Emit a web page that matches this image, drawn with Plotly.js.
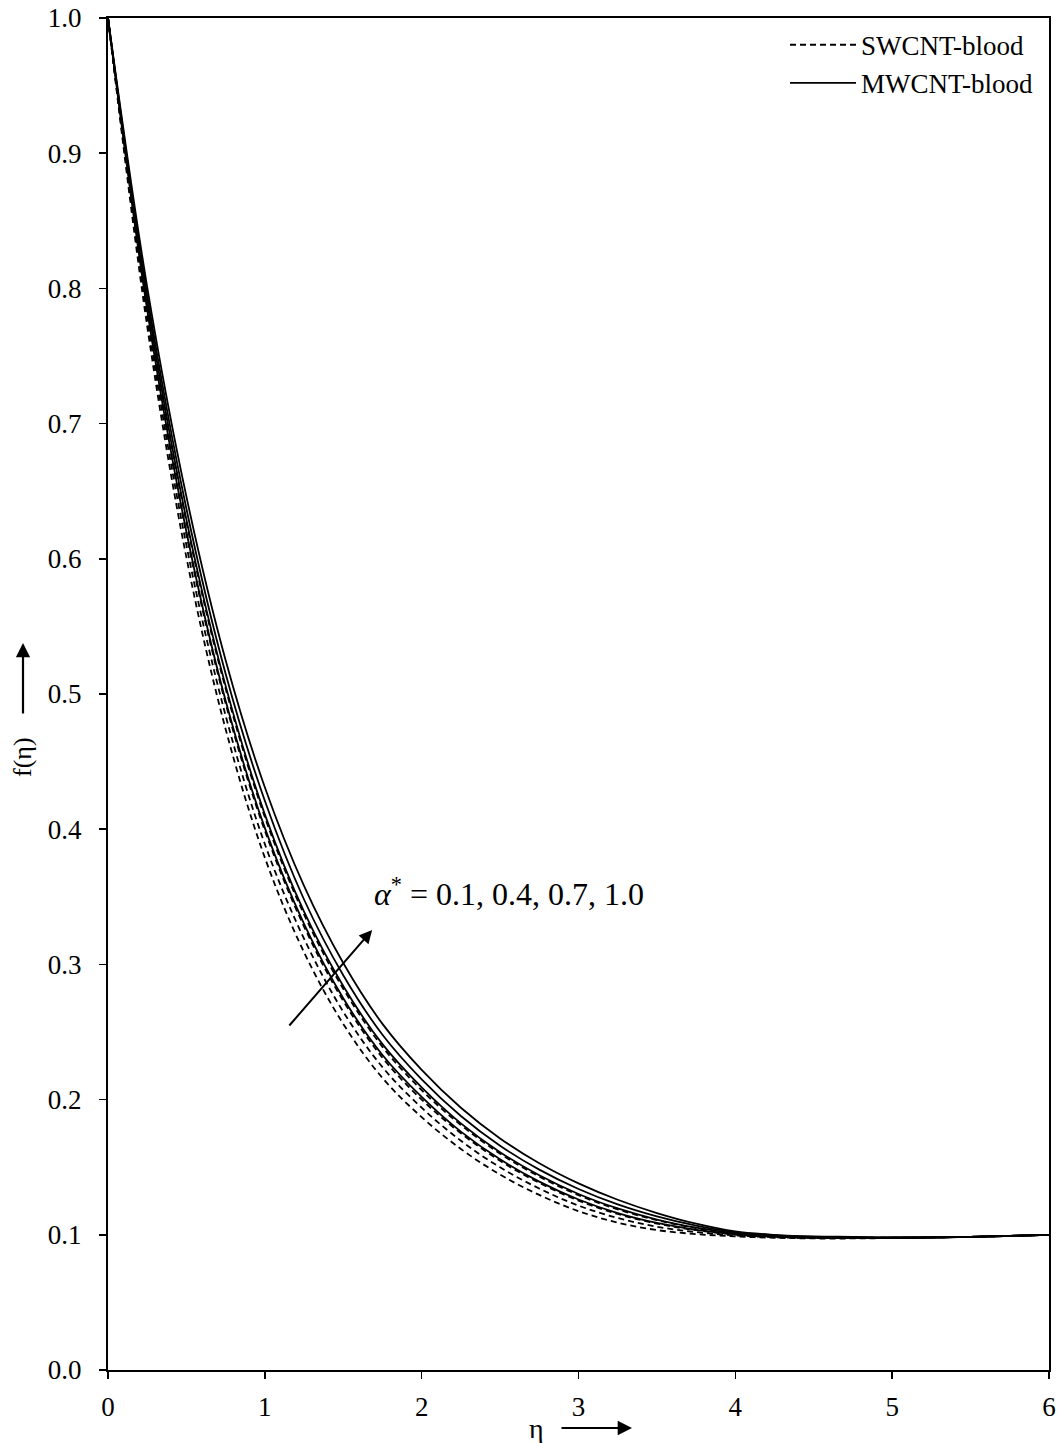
<!DOCTYPE html>
<html>
<head>
<meta charset="utf-8">
<script src="https://cdn.plot.ly/plotly-3.0.1.min.js"></script>
<style>
  html, body { margin: 0; padding: 0; background: #fff; }
  #chart { width: 1062px; height: 1443px; }
</style>
</head>
<body>
<div id="chart"></div>
<script>
// Similarity variable eta
const eta = [0, 0.25, 0.5, 0.75, 1, 1.25, 1.5, 1.75, 2, 2.25, 2.5, 2.75, 3, 3.25, 3.5, 3.75, 4, 4.25, 4.5, 4.75, 5, 5.5, 6];

// f(eta) for SWCNT-blood, alpha* = 0.1, 0.4, 0.7, 1.0
const swcnt_a01 = [1, 0.772, 0.601, 0.474, 0.379, 0.309, 0.256, 0.216, 0.187, 0.1635, 0.1445, 0.1295, 0.1175, 0.1090, 0.1035, 0.1005, 0.0988, 0.0978, 0.0973, 0.0973, 0.0976, 0.0985, 0.100];
const swcnt_a04 = [1, 0.778, 0.610, 0.484, 0.389, 0.319, 0.265, 0.224, 0.194, 0.1696, 0.1499, 0.1342, 0.1216, 0.1124, 0.1060, 0.1020, 0.0995, 0.0982, 0.0976, 0.0975, 0.0977, 0.0985, 0.100];
const swcnt_a07 = [1, 0.783, 0.618, 0.493, 0.399, 0.328, 0.273, 0.231, 0.200, 0.1751, 0.1547, 0.1384, 0.1253, 0.1154, 0.1083, 0.1034, 0.1002, 0.0986, 0.0979, 0.0978, 0.0978, 0.0985, 0.100];
const swcnt_a10 = [1, 0.789, 0.627, 0.504, 0.409, 0.337, 0.282, 0.239, 0.207, 0.1812, 0.1600, 0.1431, 0.1294, 0.1188, 0.1108, 0.1050, 0.1009, 0.0991, 0.0982, 0.0980, 0.0978, 0.0985, 0.100];

// f(eta) for MWCNT-blood, alpha* = 0.1, 0.4, 0.7, 1.0
const mwcnt_a01 = [1, 0.784, 0.620, 0.495, 0.401, 0.330, 0.275, 0.233, 0.202, 0.1763, 0.1558, 0.1393, 0.1261, 0.1161, 0.1088, 0.1037, 0.1004, 0.0987, 0.0979, 0.0978, 0.0978, 0.0985, 0.100];
const mwcnt_a04 = [1, 0.790, 0.629, 0.506, 0.411, 0.339, 0.284, 0.241, 0.209, 0.1824, 0.1611, 0.1440, 0.1302, 0.1195, 0.1113, 0.1053, 0.1011, 0.0992, 0.0982, 0.0980, 0.0978, 0.0985, 0.100];
const mwcnt_a07 = [1, 0.795, 0.637, 0.515, 0.421, 0.348, 0.292, 0.248, 0.215, 0.1879, 0.1659, 0.1482, 0.1339, 0.1225, 0.1136, 0.1067, 0.1018, 0.0996, 0.0985, 0.0983, 0.0979, 0.0985, 0.100];
const mwcnt_a10 = [1, 0.801, 0.646, 0.525, 0.431, 0.358, 0.301, 0.256, 0.222, 0.1940, 0.1713, 0.1529, 0.1380, 0.1259, 0.1161, 0.1082, 0.1025, 0.1000, 0.0988, 0.0985, 0.0980, 0.0985, 0.100];

const legendNames = ['SWCNT-blood', 'MWCNT-blood'];
const alphaLabel = '<i>α</i><sup>*</sup> = 0.1, 0.4, 0.7, 1.0';
const xTitle = 'η';
const yTitle = 'f(η)';

const FONT = '"Liberation Serif", "Times New Roman", Times, serif';

function curve(y, dashed, name, group, showlegend) {
  return {
    x: eta, y: y, type: 'scatter', mode: 'lines',
    line: { color: '#000', width: 1.8, dash: dashed ? '6px,4px' : 'solid', shape: 'spline', smoothing: 1 },
    name: name, legendgroup: group, showlegend: showlegend, hoverinfo: 'skip'
  };
}

const traces = [
  curve(swcnt_a01, true, legendNames[0], 'sw', true),
  curve(swcnt_a04, true, legendNames[0], 'sw', false),
  curve(swcnt_a07, true, legendNames[0], 'sw', false),
  curve(swcnt_a10, true, legendNames[0], 'sw', false),
  curve(mwcnt_a01, false, legendNames[1], 'mw', true),
  curve(mwcnt_a04, false, legendNames[1], 'mw', false),
  curve(mwcnt_a07, false, legendNames[1], 'mw', false),
  curve(mwcnt_a10, false, legendNames[1], 'mw', false)
];

const layout = {
  width: 1062, height: 1443,
  margin: { l: 108, r: 13, t: 18, b: 73 },
  paper_bgcolor: '#fff', plot_bgcolor: '#fff',
  font: { family: FONT, size: 26, color: '#000' },
  showlegend: true,
  legend: {
    x: (1039 - 108) / 941, xanchor: 'right', y: 0.998, yanchor: 'top',
    bgcolor: 'rgba(0,0,0,0)', borderwidth: 0,
    font: { family: FONT, size: 27, color: '#000' },
    traceorder: 'grouped', tracegroupgap: 0, itemwidth: 66
  },
  xaxis: {
    range: [0, 6], dtick: 1, tick0: 0,
    showgrid: false, zeroline: false,
    showline: true, linecolor: '#000', linewidth: 2, mirror: true,
    ticks: 'outside', ticklen: 7, tickwidth: 1.5, tickcolor: '#000',
    ticklabelstandoff: 5,
    tickfont: { family: FONT, size: 27, color: '#000' }
  },
  yaxis: {
    range: [0, 1], dtick: 0.1, tick0: 0, tickformat: '.1f',
    showgrid: false, zeroline: false,
    showline: true, linecolor: '#000', linewidth: 2, mirror: true,
    ticks: 'outside', ticklen: 7, tickwidth: 1.5, tickcolor: '#000',
    ticklabelstandoff: 12,
    tickfont: { family: FONT, size: 27, color: '#000' }
  },
  annotations: [
    // parameter label
    { xref: 'paper', yref: 'paper', x: (372 - 108) / 941, y: (1370 - 892) / 1352,
      xanchor: 'left', yanchor: 'middle', showarrow: false,
      text: alphaLabel, font: { family: FONT, size: 32, color: '#000' } },
    // arrow showing increasing alpha*
    { xref: 'x', yref: 'y', axref: 'x', ayref: 'y',
      x: 1.684, y: 0.3254, ax: 1.148, ay: 0.2537,
      text: '', showarrow: true, arrowhead: 2, arrowsize: 1.3, arrowwidth: 2, arrowcolor: '#000' },
    // y-axis title with arrow
    { xref: 'paper', yref: 'paper', x: (22 - 108) / 941, y: (1370 - 757) / 1352,
      xanchor: 'center', yanchor: 'middle', showarrow: false, textangle: -90,
      text: yTitle, font: { family: FONT, size: 26, color: '#000' } },
    { xref: 'paper', yref: 'paper', axref: 'pixel', ayref: 'pixel',
      x: (23 - 108) / 941, y: (1370 - 643) / 1352, ax: 0, ay: 72,
      text: '', showarrow: true, arrowhead: 2, arrowsize: 1.3, arrowwidth: 2.2, arrowcolor: '#000' },
    // x-axis title with arrow
    { xref: 'paper', yref: 'paper', x: (536 - 108) / 941, y: (1370 - 1428) / 1352,
      xanchor: 'center', yanchor: 'middle', showarrow: false,
      text: xTitle, font: { family: FONT, size: 28, color: '#000' } },
    { xref: 'paper', yref: 'paper', axref: 'pixel', ayref: 'pixel',
      x: (632 - 108) / 941, y: (1370 - 1428) / 1352, ax: -72, ay: 0,
      text: '', showarrow: true, arrowhead: 2, arrowsize: 1.3, arrowwidth: 2.2, arrowcolor: '#000' }
  ]
};

Plotly.newPlot('chart', traces, layout, { displayModeBar: false, staticPlot: true });
</script>
</body>
</html>
